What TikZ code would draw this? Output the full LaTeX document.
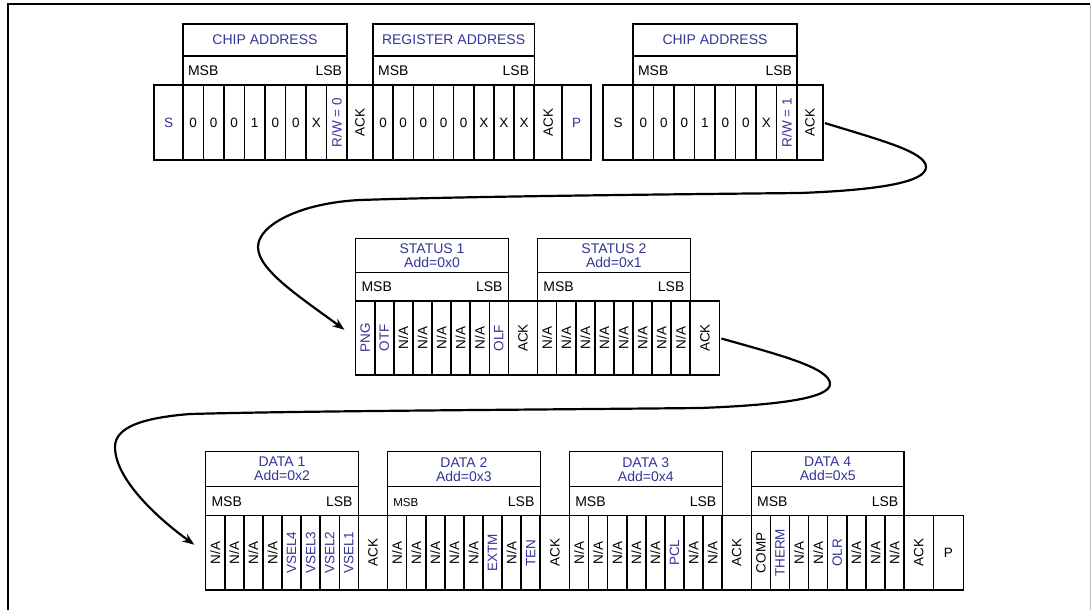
\documentclass[tikz,border=0pt]{standalone}
\usepackage{fontspec}
\setmainfont{Liberation Sans}
\usepackage{graphicx}
\usetikzlibrary{arrows.meta}
\definecolor{regblue}{RGB}{51,51,153}
\newcommand{\vlab}[1]{\rotatebox{90}{#1}}
\newcommand{\blab}[1]{\textcolor{regblue}{\rotatebox{90}{#1}}}

\begin{document}
\begin{tikzpicture}[x=1pt, y=-1pt,
    bitcell/.style ={draw, line width=1.5pt, anchor=north west, inner sep=0pt, outer sep=0pt, font=\fontsize{13.5}{14}\selectfont},
    topcell/.style ={bitcell, minimum height=75pt},
    lowcell/.style ={bitcell, minimum height=74.3pt},
    regname/.style ={draw, line width=1.1pt, anchor=north west, inner sep=0pt, outer sep=0pt, align=center, text=regblue, font=\fontsize{14}{14}\selectfont},
    bitorder/.style ={draw, line width=1.1pt, anchor=north west, inner sep=0pt, outer sep=0pt, font=\fontsize{14}{14}\selectfont},
    nextframe/.style ={line width=2.2pt, shorten <=2pt, -{Stealth[length=12pt, width=9pt]}}]
   \useasboundingbox (0,0) rectangle (1091,610);
   \draw[line width=2pt] (8,610) -- (8,4) -- (1090,4);
   \draw[gray!50, line width=1pt] (1090,4) -- (1090,610);

   % write: chip address + register address
   \node[regname, minimum width=164pt, minimum height=32pt] (f1chip) at (183,24) {CHIP ADDRESS};
   \node[bitorder, minimum width=164pt, minimum height=29pt] (f1chiporder) at (183,56) {\makebox[154pt]{MSB\hfill LSB}};
   \node[regname, minimum width=161.2pt, minimum height=32pt] (f1reg) at (373,24) {REGISTER ADDRESS};
   \node[bitorder, minimum width=161.2pt, minimum height=29pt] (f1regorder) at (373,56) {\makebox[151pt]{MSB\hfill LSB}};
   \node[topcell, minimum width=29pt, text=regblue] (f1s) at (154,85) {S};
   \foreach \lab [count=\i] in {0,0,0,1,0,0,X,\blab{R/W = 0}}
     \node[topcell, minimum width=20.5pt] (f1c\i) at ({183+(\i-1)*20.5},85) {\lab};
   \node[topcell, minimum width=26pt] (f1ack1) at (347,85) {\vlab{ACK}};
   \foreach \lab [count=\i] in {0,0,0,0,0,X,X,X}
     \node[topcell, minimum width=20.15pt] (f1r\i) at ({373+(\i-1)*20.15},85) {\lab};
   \node[topcell, minimum width=27.8pt] (f1ack2) at (534.2,85) {\vlab{ACK}};
   \node[topcell, minimum width=29pt, text=regblue] (f1p) at (562,85) {P};

   % read: chip address
   \node[regname, minimum width=164pt, minimum height=32pt] (f2chip) at (633,24) {CHIP ADDRESS};
   \node[bitorder, minimum width=164pt, minimum height=29pt] (f2chiporder) at (633,56) {\makebox[154pt]{MSB\hfill LSB}};
   \node[topcell, minimum width=30pt] (f2s) at (603,85) {S};
   \foreach \lab [count=\i] in {0,0,0,1,0,0,X,\blab{R/W = 1}}
     \node[topcell, minimum width=20.5pt] (f2c\i) at ({633+(\i-1)*20.5},85) {\lab};
   \node[topcell, minimum width=26pt] (f2ack) at (797,85) {\vlab{ACK}};

   % status registers
   \node[regname, minimum width=152.6pt, minimum height=34pt] (s1name) at (355.7,238.3) {STATUS 1\\Add=0x0};
   \node[bitorder, minimum width=152.6pt, minimum height=28.7pt] (s1order) at (355.7,272.3) {\makebox[141pt]{MSB\hfill LSB}};
   \foreach \lab [count=\i] in {\blab{PNG},\blab{OTF},\vlab{N/A},\vlab{N/A},\vlab{N/A},\vlab{N/A},\vlab{N/A},\blab{OLF}}
     \node[lowcell, minimum height=74pt, minimum width=19.08pt] (s1c\i) at ({355.7+(\i-1)*19.08},301) {\lab};
   \node[lowcell, minimum height=74pt, minimum width=29.3pt] (s1ack) at (508.3,301) {\vlab{ACK}};
   \node[regname, minimum width=152.6pt, minimum height=34pt] (s2name) at (537.6,238.3) {STATUS 2\\Add=0x1};
   \node[bitorder, minimum width=152.6pt, minimum height=28.7pt] (s2order) at (537.6,272.3) {\makebox[141pt]{MSB\hfill LSB}};
   \foreach \i in {1,...,8}
     \node[lowcell, minimum height=74pt, minimum width=19.08pt] (s2c\i) at ({537.6+(\i-1)*19.08},301) {\vlab{N/A}};
   \node[lowcell, minimum height=74pt, minimum width=29.3pt] (s2ack) at (690.2,301) {\vlab{ACK}};

   % data registers
   \node[regname, minimum width=152.6pt, minimum height=35pt] (d1name) at (205.7,451.7) {DATA 1\\Add=0x2};
   \node[bitorder, minimum width=152.6pt, minimum height=29pt] (d1order) at (205.7,486.7) {\makebox[141pt]{MSB\hfill LSB}};
   \foreach \lab [count=\i] in {\vlab{N/A},\vlab{N/A},\vlab{N/A},\vlab{N/A},\blab{VSEL4},\blab{VSEL3},\blab{VSEL2},\blab{VSEL1}}
     \node[lowcell, minimum width=19.08pt] (d1c\i) at ({205.7+(\i-1)*19.08},515.7) {\lab};
   \node[lowcell, minimum width=29.3pt] (d1ack) at (358.3,515.7) {\vlab{ACK}};

   \node[regname, minimum width=152.6pt, minimum height=35pt] (d2name) at (387.6,451.7) {DATA 2\\Add=0x3};
   \node[bitorder, minimum width=152.6pt, minimum height=29pt] (d2order) at (387.6,486.7) {\makebox[141pt]{{\fontsize{11.5}{12}\selectfont MSB}\hfill LSB}};
   \foreach \lab [count=\i] in {\vlab{N/A},\vlab{N/A},\vlab{N/A},\vlab{N/A},\vlab{N/A},\blab{EXTM},\vlab{N/A},\blab{TEN}}
     \node[lowcell, minimum width=19.08pt] (d2c\i) at ({387.6+(\i-1)*19.08},515.7) {\lab};
   \node[lowcell, minimum width=29.3pt] (d2ack) at (540.2,515.7) {\vlab{ACK}};

   \node[regname, minimum width=152.6pt, minimum height=35pt] (d3name) at (569.5,451.7) {DATA 3\\Add=0x4};
   \node[bitorder, minimum width=152.6pt, minimum height=29pt] (d3order) at (569.5,486.7) {\makebox[141pt]{MSB\hfill LSB}};
   \foreach \lab [count=\i] in {\vlab{N/A},\vlab{N/A},\vlab{N/A},\vlab{N/A},\vlab{N/A},\blab{PCL},\vlab{N/A},\vlab{N/A}}
     \node[lowcell, minimum width=19.08pt] (d3c\i) at ({569.5+(\i-1)*19.08},515.7) {\lab};
   \node[lowcell, minimum width=29.3pt] (d3ack) at (722.1,515.7) {\vlab{ACK}};

   \node[regname, minimum width=152.6pt, minimum height=35pt] (d4name) at (751.4,451.7) {DATA 4\\Add=0x5};
   \node[bitorder, minimum width=152.6pt, minimum height=29pt] (d4order) at (751.4,486.7) {\makebox[141pt]{MSB\hfill LSB}};
   \foreach \lab [count=\i] in {\vlab{COMP},\blab{THERM},\vlab{N/A},\vlab{N/A},\blab{OLR},\vlab{N/A},\vlab{N/A},\vlab{N/A}}
     \node[lowcell, minimum width=19.08pt] (d4c\i) at ({751.4+(\i-1)*19.08},515.7) {\lab};
   \node[lowcell, minimum width=29.3pt] (d4ack) at (904,515.7) {\vlab{ACK}};
   \node[lowcell, minimum width=30pt] (d4p) at (933.3,515.7) {P};

   % frame continues on next line
   \draw[nextframe, shorten >=14pt] (f2ack.east) .. controls (880,140) and (926,152) .. (926,167)
     .. controls (926,182) and (880,190) .. (800,193)
     .. controls (600,195) and (450,197) .. (360,200)
     .. controls (300,203) and (258,225) .. (258,247)
     .. controls (258,270) and (300,297) .. (s1c1.west);
   \draw[nextframe, shorten >=14pt] (s2ack.east) .. controls (780,355) and (830,368) .. (830,384)
     .. controls (830,398) and (780,405) .. (700,408)
     .. controls (500,410) and (300,411) .. (190,414)
     .. controls (140,418) and (115,428) .. (115,447)
     .. controls (115,480) and (160,520) .. (d1c1.west);
 \end{tikzpicture}
\end{document}
